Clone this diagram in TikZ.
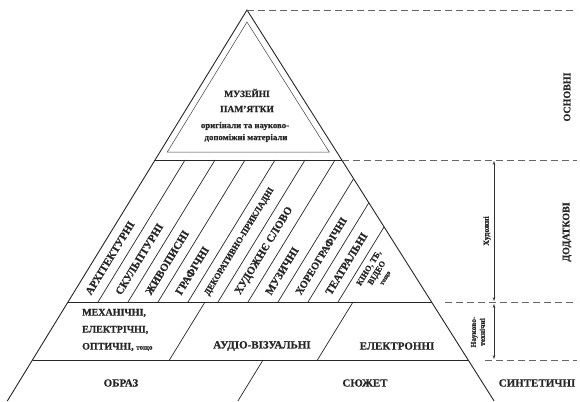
\documentclass[tikz,border=0pt]{standalone}
\usepackage{fontspec}
\setmainfont{Liberation Serif}[BoldFeatures={FakeBold=0.6}]
\usetikzlibrary{arrows.meta}
\begin{document}
\begin{tikzpicture}[x=1pt,y=-1pt,
  edge/.style={line width=0.9pt, draw=black!85, line join=miter},
  inner/.style={line width=0.5pt, draw=black!75},
  guide/.style={line width=0.6pt, draw=black!60, dash pattern=on 7pt off 4pt},
  lab/.style={font=\bfseries\fontsize{11}{13}\selectfont, text=black!85, inner sep=0pt},
  strip/.style={lab, rotate=58.5, anchor=west},
  side/.style={lab, rotate=90},
  dim/.style={line width=0.5pt, draw=black!80, {Stealth[length=4pt,width=2.6pt]}-{Stealth[length=4pt,width=2.6pt]}}
]
\useasboundingbox[fill=white] (0,0) rectangle (580,401);
% --- triangle geometry ---
\coordinate (A)   at (247,10);
\coordinate (BL)  at (7.3,401);
\coordinate (BR)  at (494.1,401);
\coordinate (L1)  at (155.1,160);  \coordinate (R1) at (341.8,160);
\coordinate (L2)  at (68,302);     \coordinate (R2) at (431.5,302);
\coordinate (L3)  at (32.5,360);   \coordinate (R3) at (468.2,360);
% inner (museum) triangle
\coordinate (IA)  at (247,22);
\coordinate (IL)  at (167.3,152);
\coordinate (IR)  at (329.2,152);
% outer outline and levels
\draw[edge] (BL) -- (A) -- (BR);
\draw[edge] (L1) -- (R1);
\draw[edge] (L2) -- (R2);
\draw[edge] (L3) -- (R3);
\draw[inner] (IA) -- (IL) -- (IR) -- cycle;
% strips
\foreach \k/\tx/\ty in {1/185/160, 2/215/160, 3/245/160, 4/275/160, 5/305/160, 6/335/160,
                        7/353.6/178.7, 8/368.8/202.8, 9/384.1/226.9}{
  \coordinate (sb\k) at ({68+30*\k},302);
  \coordinate (st\k) at (\tx,\ty);
  \draw[edge, line width=0.7pt] (sb\k) -- (st\k);
}
% row 2 dividers
\coordinate (d1t) at (205,302); \coordinate (d1b) at (169.4,360);
\coordinate (d2t) at (353,302); \coordinate (d2b) at (317.4,360);
\draw[edge, line width=0.7pt] (d1t) -- (d1b);
\draw[edge, line width=0.7pt] (d2t) -- (d2b);
% row 3 divider
\coordinate (d3t) at (263,360); \coordinate (d3b) at (237.9,401);
\draw[edge, line width=0.7pt] (d3t) -- (d3b);
% guides on the right
\coordinate (g0) at (577,10);
\coordinate (g1s) at (R1);  \coordinate (g1e) at (577,160);
\coordinate (g2s) at (445,302); \coordinate (g2e) at (577,302);
\coordinate (g3s) at (485,360); \coordinate (g3e) at (577,360);
\draw[guide] (A) -- (g0);
\draw[guide] (g1s) -- (g1e);
\draw[guide] (g2s) -- (g2e);
\draw[guide] (g3s) -- (g3e);
\coordinate (a1t) at (494,161); \coordinate (a1b) at (494,301);
\coordinate (a2t) at (494,304); \coordinate (a2b) at (494,359);
\draw[dim] (a1t) -- (a1b);
\draw[dim] (a2t) -- (a2b);
% museum text
\node[lab, font=\bfseries\fontsize{9.5}{10}\selectfont] (mus1) at (247,93) {МУЗЕЙНІ};
\node[lab, font=\bfseries\fontsize{9.5}{10}\selectfont] (mus2) at (247,109) {ПАМ'ЯТКИ};
\node[lab, font=\bfseries\fontsize{8.8}{10}\selectfont] (mus3) at (245,126) {оригінали та науково-};
\node[lab, font=\bfseries\fontsize{8.8}{10}\selectfont] (mus4) at (246,138) {допоміжні матеріали};
% strip labels
\node[strip] (s0) at (87.9,294) {АРХІТЕКТУРНІ};
\node[strip] (s1) at (117.9,294) {СКУЛЬПТУРНІ};
\node[strip] (s2) at (147.9,294) {ЖИВОПИСНІ};
\node[strip] (s3) at (177.9,294) {ГРАФІЧНІ};
\node[strip, font=\bfseries\fontsize{8.8}{10}\selectfont] (s4) at (206.9,295) {ДЕКОРАТИВНО-ПРИКЛАДНІ};
\node[strip] (s5) at (237.9,294) {ХУДОЖНЄ СЛОВО};
\node[strip] (s6) at (267.9,294) {МУЗИЧНІ};
\node[strip, font=\bfseries\fontsize{10.5}{12}\selectfont] (s7) at (297.9,294) {ХОРЕОГРАФІЧНІ};
\node[strip] (s8) at (327.9,294) {ТЕАТРАЛЬНІ};
\node[lab, rotate=58.5, align=center, font=\bfseries\fontsize{8.3}{9.3}\selectfont] (s9) at (377,273)
  {КІНО, ТБ,\\ВІДЕО\\{\fontsize{6.5}{7.5}\selectfont тощо}};
% row 2
\node[lab, anchor=west, align=left, font=\bfseries\fontsize{10}{17}\selectfont] (mech) at (82,330)
  {МЕХАНІЧНІ,\\ЕЛЕКТРІЧНІ,\\ОПТИЧНІ, {\fontsize{7}{8}\selectfont тощо}};
\node[lab] (audio) at (262,346) {АУДІО-ВІЗУАЛЬНІ};
\node[lab] (elec) at (397,346) {ЕЛЕКТРОННІ};
% row 3
\node[lab] (obraz) at (121,383) {ОБРАЗ};
\node[lab] (sjuzhet) at (365,383) {СЮЖЕТ};
\node[lab] (synt) at (537,383) {СИНТЕТИЧНІ};
% side labels
\node[side, font=\bfseries\fontsize{10}{12}\selectfont] (osn) at (567,97) {ОСНОВНІ};
\node[side, font=\bfseries\fontsize{10}{12}\selectfont] (dod) at (567,232) {ДОДАТКОВІ};
\node[side, font=\bfseries\fontsize{8}{9}\selectfont] (hud) at (487,231) {Художні};
\node[side, align=center, font=\bfseries\fontsize{7.5}{9}\selectfont] (nauk) at (478,332) {Науково-\\технічні};
\end{tikzpicture}
\end{document}
